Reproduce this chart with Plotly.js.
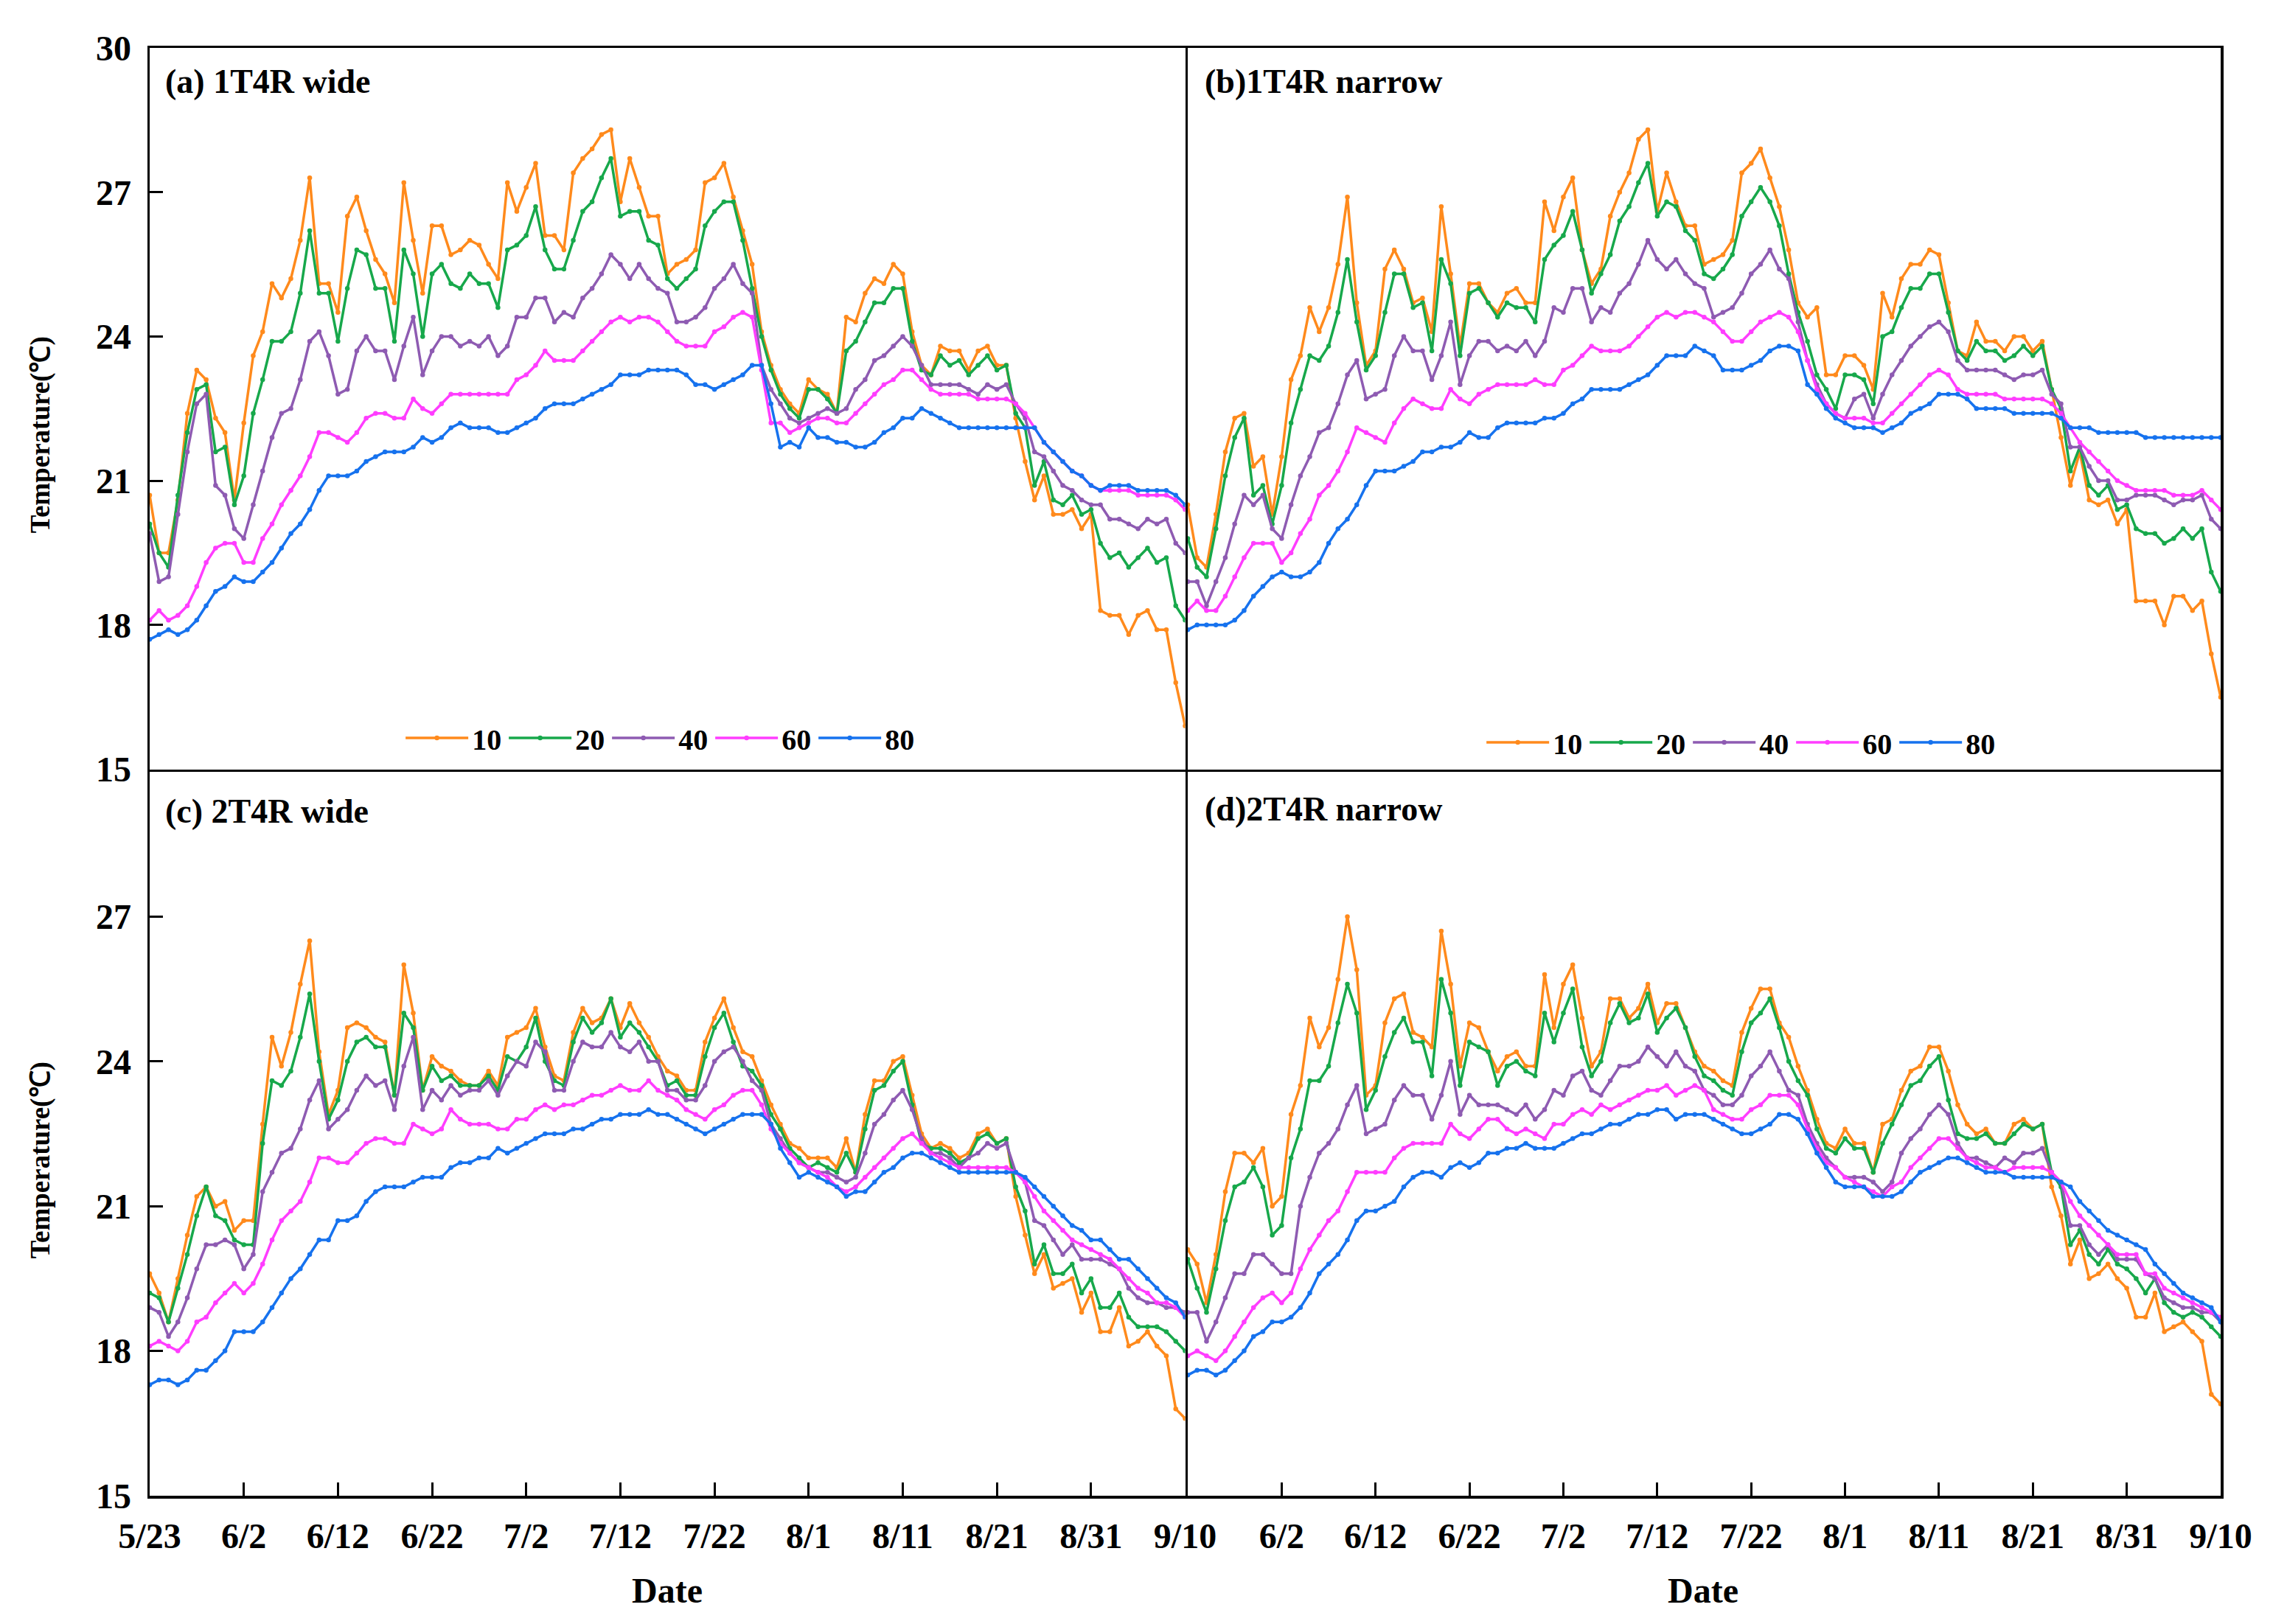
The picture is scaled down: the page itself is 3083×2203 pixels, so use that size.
<!DOCTYPE html>
<html>
<head>
<meta charset="utf-8">
<script src="https://cdn.plot.ly/plotly-3.0.1.min.js"></script>
<style>html,body{margin:0;padding:0;background:#fff;}#chart{width:3083px;height:2203px;}</style>
</head>
<body>
<div id="chart"></div>
<script>
// ---------------- data (daily soil temperature, ℃) ----------------
const startDate = '2020-05-23';
const nDays = 111; // 5/23 .. 9/10
const tickLabels = ['5/23','6/2','6/12','6/22','7/2','7/12','7/22','8/1','8/11','8/21','8/31','9/10'];
const depths = ['10','20','40','60','80'];
const panelTitles = ['(a) 1T4R wide','(b)1T4R narrow','(c) 2T4R wide','(d)2T4R narrow'];

// (a) 1T4R wide
const A10 = [20.7,19.5,19.5,20.6,22.4,23.3,23.1,22.3,22.0,20.6,22.2,23.6,24.1,25.1,24.8,25.2,26.0,27.3,25.1,25.1,24.5,26.5,26.9,26.2,25.6,25.3,24.7,27.2,26.0,24.9,26.3,26.3,25.7,25.8,26.0,25.9,25.5,25.2,27.2,26.6,27.1,27.6,26.1,26.1,25.8,27.4,27.7,27.9,28.2,28.3,26.8,27.7,27.1,26.5,26.5,25.3,25.5,25.6,25.8,27.2,27.3,27.6,26.9,26.2,25.5,24.1,23.4,22.9,22.6,22.4,23.1,22.9,22.8,22.4,24.4,24.3,24.9,25.2,25.1,25.5,25.3,24.1,23.4,23.2,23.8,23.7,23.7,23.3,23.7,23.8,23.4,23.4,22.3,21.4,20.6,21.1,20.3,20.3,20.4,20.0,20.3,18.3,18.2,18.2,17.8,18.2,18.3,17.9,17.9,16.8,15.9];
const A20 = [20.1,19.5,19.2,20.7,22.0,22.9,23.0,21.6,21.7,20.5,21.1,22.4,23.1,23.9,23.9,24.1,24.9,26.2,24.9,24.9,23.9,25.0,25.8,25.7,25.0,25.0,23.9,25.8,25.3,24.0,25.3,25.5,25.1,25.0,25.3,25.1,25.1,24.6,25.8,25.9,26.1,26.7,25.8,25.4,25.4,26.0,26.6,26.8,27.3,27.7,26.5,26.6,26.6,26.0,25.9,25.2,25.0,25.2,25.4,26.3,26.6,26.8,26.8,26.0,25.0,24.0,23.3,22.8,22.5,22.3,22.9,22.9,22.7,22.4,23.7,23.9,24.3,24.7,24.7,25.0,25.0,23.9,23.3,23.2,23.6,23.4,23.5,23.2,23.4,23.6,23.3,23.4,22.4,22.1,20.9,21.4,20.6,20.5,20.7,20.3,20.4,19.7,19.4,19.5,19.2,19.4,19.6,19.3,19.4,18.4,18.1];
const A40 = [19.9,18.9,19.0,20.3,21.6,22.6,22.8,20.9,20.7,20.0,19.8,20.5,21.2,21.9,22.4,22.5,23.1,23.9,24.1,23.6,22.8,22.9,23.7,24.0,23.7,23.7,23.1,23.8,24.4,23.2,23.7,24.0,24.0,23.8,23.9,23.8,24.0,23.6,23.8,24.4,24.4,24.8,24.8,24.3,24.5,24.4,24.8,25.0,25.3,25.7,25.5,25.2,25.5,25.2,25.0,24.9,24.3,24.3,24.4,24.6,25.0,25.2,25.5,25.1,24.9,23.4,22.9,22.6,22.3,22.2,22.3,22.4,22.5,22.4,22.5,22.9,23.1,23.5,23.6,23.8,24.0,23.8,23.4,23.0,23.0,23.0,23.0,22.9,22.8,23.0,22.9,23.0,22.6,22.3,21.6,21.5,21.2,20.9,20.8,20.6,20.5,20.5,20.2,20.2,20.1,20.0,20.2,20.1,20.2,19.7,19.5];
const A60 = [18.1,18.3,18.1,18.2,18.4,18.8,19.3,19.6,19.7,19.7,19.3,19.3,19.8,20.1,20.5,20.8,21.1,21.5,22.0,22.0,21.9,21.8,22.0,22.3,22.4,22.4,22.3,22.3,22.7,22.5,22.4,22.6,22.8,22.8,22.8,22.8,22.8,22.8,22.8,23.1,23.2,23.4,23.7,23.5,23.5,23.5,23.7,23.9,24.1,24.3,24.4,24.3,24.4,24.4,24.3,24.1,23.9,23.8,23.8,23.8,24.1,24.2,24.4,24.5,24.4,23.3,22.2,22.2,22.0,22.1,22.2,22.3,22.3,22.2,22.2,22.4,22.6,22.8,23.0,23.1,23.3,23.3,23.1,22.9,22.8,22.8,22.8,22.8,22.7,22.7,22.7,22.7,22.6,22.4,22.1,21.8,21.6,21.4,21.2,21.1,20.9,20.8,20.8,20.8,20.8,20.7,20.7,20.7,20.7,20.6,20.4];
const A80 = [17.7,17.8,17.9,17.8,17.9,18.1,18.4,18.7,18.8,19.0,18.9,18.9,19.1,19.3,19.6,19.9,20.1,20.4,20.8,21.1,21.1,21.1,21.2,21.4,21.5,21.6,21.6,21.6,21.7,21.9,21.8,21.9,22.1,22.2,22.1,22.1,22.1,22.0,22.0,22.1,22.2,22.3,22.5,22.6,22.6,22.6,22.7,22.8,22.9,23.0,23.2,23.2,23.2,23.3,23.3,23.3,23.3,23.2,23.0,23.0,22.9,23.0,23.1,23.2,23.4,23.4,22.6,21.7,21.8,21.7,22.1,21.9,21.9,21.8,21.8,21.7,21.7,21.8,22.0,22.1,22.3,22.3,22.5,22.4,22.3,22.2,22.1,22.1,22.1,22.1,22.1,22.1,22.1,22.1,22.1,21.8,21.6,21.4,21.2,21.1,20.9,20.8,20.9,20.9,20.9,20.8,20.8,20.8,20.8,20.7,20.5];

// (b) 1T4R narrow
const B10 = [20.5,19.4,19.2,20.3,21.6,22.3,22.4,21.3,21.5,20.3,21.5,23.1,23.6,24.6,24.1,24.6,25.5,26.9,24.7,23.4,23.7,25.4,25.8,25.4,24.7,24.8,24.1,26.7,25.3,23.8,25.1,25.1,24.7,24.5,24.9,25.0,24.7,24.7,26.8,26.2,26.9,27.3,25.8,25.1,25.4,26.5,27.0,27.4,28.1,28.3,26.6,27.4,26.8,26.3,26.3,25.5,25.6,25.7,26.0,27.4,27.6,27.9,27.3,26.7,25.8,24.7,24.4,24.6,23.2,23.2,23.6,23.6,23.4,22.9,24.9,24.4,25.2,25.5,25.5,25.8,25.7,24.7,23.7,23.6,24.3,23.9,23.9,23.7,24.0,24.0,23.7,23.9,22.9,21.9,20.9,21.6,20.6,20.5,20.6,20.1,20.4,18.5,18.5,18.5,18.0,18.6,18.6,18.3,18.5,17.4,16.5];
const B20 = [19.8,19.2,19.0,20.0,21.1,21.9,22.3,20.7,20.9,20.1,20.9,22.2,22.9,23.6,23.5,23.8,24.5,25.6,24.3,23.3,23.6,24.5,25.3,25.3,24.6,24.7,23.7,25.6,25.1,23.6,24.9,25.0,24.7,24.4,24.7,24.6,24.6,24.3,25.6,25.9,26.1,26.6,25.8,24.9,25.3,25.7,26.4,26.7,27.2,27.6,26.5,26.8,26.7,26.2,26.0,25.3,25.2,25.4,25.7,26.5,26.8,27.1,26.8,26.3,25.3,24.5,23.9,23.2,22.9,22.5,23.2,23.2,23.1,22.6,24.0,24.1,24.6,25.0,25.0,25.3,25.3,24.5,23.7,23.5,23.9,23.7,23.7,23.5,23.6,23.8,23.6,23.8,22.9,22.5,21.2,21.7,20.9,20.7,20.9,20.4,20.5,20.0,19.9,19.9,19.7,19.8,20.0,19.8,20.0,19.1,18.7];
const B40 = [18.9,18.9,18.4,18.9,19.4,20.1,20.7,20.5,20.7,20.0,19.8,20.5,21.1,21.5,22.0,22.1,22.6,23.2,23.5,22.7,22.8,22.9,23.6,24.0,23.7,23.7,23.1,23.6,24.3,23.0,23.6,23.9,23.9,23.7,23.8,23.7,23.9,23.6,23.9,24.6,24.5,25.0,25.0,24.3,24.6,24.5,24.9,25.1,25.5,26.0,25.6,25.4,25.6,25.3,25.1,25.0,24.4,24.5,24.6,24.9,25.3,25.5,25.8,25.4,25.2,24.3,23.5,23.0,22.6,22.4,22.3,22.7,22.8,22.3,22.8,23.2,23.5,23.8,24.0,24.2,24.3,24.1,23.5,23.3,23.3,23.3,23.3,23.2,23.1,23.2,23.2,23.3,22.8,22.6,21.7,21.7,21.3,21.0,21.0,20.6,20.6,20.7,20.7,20.7,20.6,20.5,20.6,20.6,20.7,20.2,20.0];
const B60 = [18.3,18.5,18.3,18.3,18.6,19.0,19.4,19.7,19.7,19.7,19.3,19.5,19.9,20.2,20.7,20.9,21.2,21.6,22.1,22.0,21.9,21.8,22.2,22.5,22.7,22.6,22.5,22.5,22.9,22.7,22.6,22.8,22.9,23.0,23.0,23.0,23.0,23.1,23.0,23.0,23.3,23.4,23.6,23.8,23.7,23.7,23.7,23.8,24.0,24.2,24.4,24.5,24.4,24.5,24.5,24.4,24.3,24.1,23.9,23.9,24.1,24.3,24.4,24.5,24.4,24.1,23.5,22.9,22.6,22.4,22.3,22.3,22.3,22.2,22.2,22.4,22.6,22.8,23.0,23.2,23.3,23.2,22.9,22.8,22.8,22.8,22.8,22.7,22.7,22.7,22.7,22.7,22.6,22.4,22.1,21.8,21.6,21.4,21.2,21.0,20.9,20.8,20.8,20.8,20.8,20.7,20.7,20.7,20.8,20.6,20.4];
const B80 = [17.9,18.0,18.0,18.0,18.0,18.1,18.3,18.6,18.8,19.0,19.1,19.0,19.0,19.1,19.3,19.7,20.0,20.2,20.5,20.9,21.2,21.2,21.2,21.3,21.4,21.6,21.6,21.7,21.7,21.8,22.0,21.9,21.9,22.1,22.2,22.2,22.2,22.2,22.3,22.3,22.4,22.6,22.7,22.9,22.9,22.9,22.9,23.0,23.1,23.2,23.4,23.6,23.6,23.6,23.8,23.7,23.6,23.3,23.3,23.3,23.4,23.5,23.7,23.8,23.8,23.7,23.0,22.8,22.5,22.3,22.2,22.1,22.1,22.1,22.0,22.1,22.2,22.4,22.5,22.6,22.8,22.8,22.8,22.7,22.5,22.5,22.5,22.5,22.4,22.4,22.4,22.4,22.4,22.3,22.1,22.1,22.1,22.0,22.0,22.0,22.0,22.0,21.9,21.9,21.9,21.9,21.9,21.9,21.9,21.9,21.9];

// (c) 2T4R wide
const C10 = [19.6,19.2,18.6,19.5,20.4,21.2,21.4,21.0,21.1,20.5,20.7,20.7,22.7,24.5,23.9,24.6,25.6,26.5,24.2,22.9,23.4,24.7,24.8,24.7,24.5,24.4,23.3,26.0,25.0,23.4,24.1,23.9,23.8,23.6,23.5,23.5,23.8,23.5,24.5,24.6,24.7,25.1,24.3,23.7,23.6,24.6,25.1,24.8,24.9,25.3,24.7,25.2,24.8,24.5,24.1,23.8,23.7,23.4,23.4,24.4,24.9,25.3,24.7,24.2,24.1,23.6,23.1,22.7,22.3,22.2,22.0,22.0,22.0,21.8,22.4,21.7,22.9,23.6,23.6,24.0,24.1,23.3,22.5,22.2,22.3,22.2,22.0,22.1,22.5,22.6,22.3,22.4,21.2,20.4,19.6,20.0,19.3,19.4,19.5,18.8,19.2,18.4,18.4,18.9,18.1,18.2,18.4,18.1,17.9,16.8,16.6];
const C20 = [19.2,19.1,18.6,19.3,20.0,20.8,21.4,20.8,20.7,20.3,20.2,20.2,22.3,23.6,23.5,23.8,24.5,25.4,24.0,22.8,23.2,24.0,24.4,24.5,24.3,24.3,23.3,25.0,24.7,23.4,23.9,23.6,23.7,23.5,23.5,23.5,23.7,23.4,24.1,24.0,24.3,24.9,24.0,23.6,23.5,24.4,24.9,24.6,24.8,25.3,24.5,24.8,24.6,24.3,24.0,23.5,23.6,23.3,23.3,24.1,24.7,25.0,24.4,23.9,23.8,23.5,22.9,22.6,22.2,22.0,21.8,21.9,21.8,21.7,22.1,21.7,22.6,23.4,23.5,23.8,24.0,23.1,22.3,22.2,22.2,22.1,21.9,22.0,22.4,22.5,22.3,22.4,21.4,20.9,19.8,20.2,19.6,19.6,19.8,19.2,19.5,18.9,18.9,19.2,18.7,18.5,18.5,18.5,18.4,18.2,18.0];
const C40 = [18.9,18.8,18.3,18.6,19.1,19.7,20.2,20.2,20.3,20.2,19.7,20.0,21.3,21.7,22.1,22.2,22.6,23.2,23.6,22.6,22.8,23.0,23.4,23.7,23.5,23.6,23.0,23.9,24.5,23.0,23.4,23.2,23.5,23.3,23.4,23.4,23.6,23.3,23.7,24.0,23.9,24.4,24.2,23.4,23.4,24.0,24.4,24.3,24.3,24.6,24.3,24.2,24.4,24.0,24.0,23.4,23.4,23.2,23.2,23.5,24.0,24.2,24.3,24.0,23.6,23.4,22.7,22.4,22.1,21.9,21.8,21.7,21.7,21.6,21.5,21.6,22.1,22.7,22.9,23.2,23.4,23.0,22.4,22.1,22.1,22.0,21.8,22.0,22.1,22.3,22.2,22.3,21.7,21.5,20.7,20.6,20.3,20.0,20.2,19.9,19.9,19.9,19.8,19.7,19.3,19.1,19.0,19.0,18.9,18.9,18.8];
const C60 = [18.1,18.2,18.1,18.0,18.2,18.6,18.7,19.0,19.2,19.4,19.2,19.4,19.8,20.3,20.7,20.9,21.1,21.5,22.0,22.0,21.9,21.9,22.1,22.3,22.4,22.4,22.3,22.3,22.7,22.6,22.5,22.6,23.0,22.8,22.7,22.7,22.7,22.6,22.6,22.8,22.8,23.0,23.1,23.0,23.1,23.1,23.2,23.3,23.3,23.4,23.5,23.4,23.4,23.6,23.4,23.3,23.2,23.0,22.9,22.8,23.0,23.1,23.3,23.4,23.4,23.1,22.6,22.3,22.1,21.9,21.8,21.7,21.6,21.4,21.3,21.4,21.6,21.8,22.0,22.2,22.4,22.5,22.3,22.1,22.0,21.9,21.8,21.8,21.8,21.8,21.8,21.8,21.7,21.5,21.2,20.9,20.7,20.5,20.3,20.2,20.1,20.0,19.9,19.7,19.5,19.3,19.2,19.0,19.0,18.9,18.7];
const C80 = [17.3,17.4,17.4,17.3,17.4,17.6,17.6,17.8,18.0,18.4,18.4,18.4,18.6,18.9,19.2,19.5,19.7,20.0,20.3,20.3,20.7,20.7,20.8,21.1,21.3,21.4,21.4,21.4,21.5,21.6,21.6,21.6,21.8,21.9,21.9,22.0,22.0,22.2,22.1,22.2,22.3,22.4,22.5,22.5,22.5,22.6,22.6,22.7,22.8,22.8,22.9,22.9,22.9,23.0,22.9,22.9,22.8,22.7,22.6,22.5,22.6,22.7,22.8,22.9,22.9,22.9,22.7,22.2,21.9,21.6,21.7,21.6,21.5,21.4,21.2,21.3,21.3,21.5,21.7,21.8,22.0,22.1,22.1,22.0,21.9,21.8,21.7,21.7,21.7,21.7,21.7,21.7,21.7,21.6,21.4,21.2,21.0,20.8,20.6,20.5,20.3,20.3,20.1,19.9,19.9,19.7,19.5,19.3,19.1,19.0,18.7];

// (d) 2T4R narrow
const D10 = [20.1,19.8,19.0,20.0,21.3,22.1,22.1,21.9,22.2,21.0,21.2,22.9,23.5,24.9,24.3,24.7,25.7,27.0,25.9,23.3,23.5,24.8,25.3,25.4,24.6,24.5,24.3,26.7,25.6,23.9,24.8,24.7,24.2,23.8,24.1,24.2,23.9,23.9,25.8,24.7,25.6,26.0,24.9,23.9,24.2,25.3,25.3,24.9,25.1,25.6,24.8,25.2,25.2,24.7,24.2,23.9,23.8,23.6,23.5,24.6,25.1,25.5,25.5,24.8,24.5,23.9,23.4,22.8,22.3,22.2,22.6,22.3,22.3,21.7,22.7,22.8,23.4,23.8,23.9,24.3,24.3,23.8,23.1,22.7,22.5,22.6,22.3,22.3,22.7,22.8,22.6,22.7,21.4,20.8,19.8,20.3,19.5,19.6,19.8,19.5,19.3,18.7,18.7,19.2,18.4,18.5,18.6,18.4,18.2,17.1,16.9];
const D20 = [19.9,19.3,18.8,19.7,20.7,21.4,21.5,21.8,21.4,20.4,20.6,22.0,22.6,23.6,23.6,23.9,24.8,25.6,25.0,23.0,23.4,24.1,24.6,24.9,24.4,24.4,23.7,25.7,25.0,23.5,24.4,24.3,24.2,23.5,23.9,24.0,23.8,23.7,25.0,24.4,25.0,25.5,24.3,23.7,24.0,24.8,25.2,24.8,24.9,25.4,24.6,24.9,25.1,24.7,24.1,23.7,23.6,23.4,23.3,24.2,24.8,25.0,25.3,24.7,24.0,23.6,23.3,22.6,22.2,22.1,22.4,22.2,22.2,21.7,22.3,22.7,23.1,23.5,23.6,23.9,24.1,23.2,22.5,22.4,22.4,22.5,22.3,22.3,22.5,22.7,22.6,22.7,21.7,21.4,20.2,20.5,20.0,19.8,20.1,19.8,19.7,19.5,19.2,19.5,19.0,18.8,18.7,18.8,18.7,18.5,18.3];
const D40 = [18.8,18.8,18.2,18.6,19.1,19.6,19.6,20.0,20.0,19.8,19.6,19.6,21.0,21.6,22.1,22.3,22.6,23.1,23.5,22.5,22.6,22.7,23.2,23.5,23.3,23.3,22.8,23.3,24.0,22.9,23.3,23.1,23.1,23.1,23.0,22.9,23.1,22.8,23.0,23.4,23.3,23.7,23.8,23.4,23.3,23.6,23.9,23.9,24.0,24.3,24.1,23.9,24.2,23.9,23.8,23.4,23.3,23.1,23.1,23.3,23.7,23.9,24.2,23.8,23.4,23.3,22.7,22.3,22.0,21.8,21.6,21.6,21.6,21.5,21.3,21.5,22.1,22.4,22.6,22.9,23.1,22.9,22.3,22.0,22.0,21.9,21.8,22.0,21.9,22.1,22.1,22.2,21.7,21.5,20.6,20.6,20.2,20.0,20.2,19.9,19.9,19.9,19.6,19.5,19.1,19.0,18.9,18.9,18.8,18.8,18.6];
const D60 = [17.9,18.0,17.9,17.8,18.0,18.3,18.6,18.9,19.1,19.2,19.0,19.2,19.7,20.1,20.4,20.7,20.9,21.3,21.7,21.7,21.7,21.7,22.0,22.2,22.3,22.3,22.3,22.3,22.7,22.5,22.4,22.6,22.8,22.8,22.6,22.5,22.6,22.5,22.4,22.7,22.7,22.9,23.0,22.9,23.1,23.0,23.1,23.2,23.3,23.4,23.4,23.5,23.3,23.4,23.5,23.4,23.0,22.9,22.8,22.8,23.0,23.1,23.3,23.3,23.3,23.1,22.6,22.2,21.9,21.8,21.6,21.5,21.4,21.3,21.2,21.4,21.5,21.8,22.0,22.2,22.4,22.4,22.2,22.0,21.9,21.8,21.8,21.7,21.8,21.8,21.8,21.8,21.7,21.5,21.1,20.8,20.6,20.4,20.2,20.0,20.0,20.0,19.6,19.6,19.3,19.2,19.1,19.0,18.9,18.8,18.7];
const D80 = [17.5,17.6,17.6,17.5,17.6,17.8,18.0,18.3,18.4,18.6,18.6,18.7,18.9,19.2,19.6,19.8,20.0,20.3,20.7,20.9,20.9,21.0,21.1,21.4,21.6,21.7,21.7,21.6,21.8,21.9,21.8,21.9,22.1,22.1,22.2,22.2,22.3,22.2,22.2,22.2,22.3,22.4,22.5,22.5,22.6,22.7,22.7,22.8,22.9,22.9,23.0,23.0,22.8,22.9,22.9,22.9,22.8,22.7,22.6,22.5,22.5,22.6,22.7,22.9,22.9,22.8,22.5,22.1,21.8,21.5,21.4,21.4,21.4,21.2,21.2,21.2,21.3,21.5,21.7,21.8,21.9,22.0,22.0,21.9,21.8,21.7,21.7,21.7,21.6,21.6,21.6,21.6,21.6,21.5,21.4,21.1,20.9,20.7,20.5,20.4,20.3,20.2,20.1,19.8,19.6,19.4,19.2,19.1,19.0,18.9,18.6];

const panels = [
  [A10, A20, A40, A60, A80],
  [B10, B20, B40, B60, B80],
  [C10, C20, C40, C60, C80],
  [D10, D20, D40, D60, D80]
];

// ---------------- styling ----------------
const colors = ['#FF8A1C', '#17A84B', '#8E5BB2', '#FF3DFF', '#1672EE'];
const FONT = 'Liberation Serif, Times New Roman, serif';
const LW = 3.5;                 // frame line width (px)
const PLOT_W = 3083 - 203 - 71; // plot-area width in px
const PLOT_H = 2203 - 65 - 174; // plot-area height in px
const midX = 0.5 + LW / PLOT_W; // right panels start so shared frame lines coincide
const midY = 0.5 + LW / PLOT_H; // top panels start so shared frame lines coincide

// date categories from start date
const dates = [];
{
  const d0 = new Date(startDate + 'T00:00:00Z');
  for (let i = 0; i < nDays; i++) {
    const d = new Date(d0.getTime() + i * 86400000);
    dates.push(d.toISOString().slice(0, 10));
  }
}
const tickDates = tickLabels.map((_, i) => dates[i * 10]);

const traces = [];
panels.forEach((series, p) => {
  const ax = p === 0 ? '' : String(p + 1);
  series.forEach((vals, s) => {
    traces.push({
      x: dates, y: vals,
      xaxis: 'x' + ax, yaxis: 'y' + ax,
      type: 'scatter', mode: 'lines+markers',
      name: depths[s],
      line: {color: colors[s], width: 3.5},
      marker: {color: colors[s], size: 6.5, symbol: 'circle'},
      showlegend: p < 2,
      legend: p === 1 ? 'legend2' : 'legend'
    });
  });
});

const tickFont = {family: FONT, size: 48, color: '#000', weight: 'bold'};
const range = [dates[0], dates[nDays - 1]];

function xAxis(domain, anchor, showLabels, labelFrom) {
  const a = {
    domain: domain, anchor: anchor, type: 'date', range: range,
    showgrid: false, zeroline: false,
    showline: true, mirror: true, linecolor: '#000', linewidth: LW,
    fixedrange: true
  };
  if (showLabels) {
    a.tickmode = 'array';
    a.tickvals = tickDates.slice(labelFrom);
    a.ticktext = tickLabels.slice(labelFrom);
    a.ticks = 'inside'; a.ticklen = 18; a.tickwidth = 3; a.tickcolor = '#000';
    a.tickfont = tickFont;
    a.ticklabelstandoff = 10;
  } else {
    a.showticklabels = false; a.ticks = '';
  }
  return a;
}
function yAxis(domain, anchor, labelVals) {
  const a = {
    domain: domain, anchor: anchor, range: [15, 30],
    showgrid: false, zeroline: false,
    showline: true, mirror: true, linecolor: '#000', linewidth: LW,
    fixedrange: true
  };
  if (labelVals) {
    a.tickmode = 'array';
    a.tickvals = labelVals;
    a.ticktext = labelVals.map(String);
    a.ticks = 'inside'; a.ticklen = 18; a.tickwidth = 3; a.tickcolor = '#000';
    a.tickfont = tickFont;
    a.ticklabelstandoff = 12;
  } else {
    a.showticklabels = false; a.ticks = '';
  }
  return a;
}

const annFont = {family: FONT, size: 46, color: '#000', weight: 'bold'};
const annotations = [
  {text: panelTitles[0], x: 0.0068, y: 0.9766},
  {text: panelTitles[1], x: 0.5087, y: 0.9766},
  {text: panelTitles[2], x: 0.0068, y: 0.4730},
  {text: panelTitles[3], x: 0.5087, y: 0.4745}
].map(a => Object.assign(a, {xref: 'paper', yref: 'paper', xanchor: 'left', yanchor: 'middle', showarrow: false, font: annFont}));

const ytFont = {family: FONT, size: 37, color: '#000', weight: 'bold'};
annotations.push(
  {text: 'Temperature(℃)', x: -0.0527, y: 0.733, textangle: -90},
  {text: 'Temperature(℃)', x: -0.0527, y: 0.232, textangle: -90}
);
annotations.push(
  {text: 'Date', x: 0.25, y: -0.0652},
  {text: 'Date', x: 0.75, y: -0.0652}
);
for (let i = 4; i < 8; i++) {
  Object.assign(annotations[i], {xref: 'paper', yref: 'paper', xanchor: 'center', yanchor: 'middle', showarrow: false,
    font: i < 6 ? ytFont : {family: FONT, size: 48, color: '#000', weight: 'bold'}});
}

const legendBase = {
  orientation: 'h', xanchor: 'left', yanchor: 'middle',
  bgcolor: 'rgba(0,0,0,0)', borderwidth: 0,
  font: {family: FONT, size: 40, color: '#000', weight: 'bold'},
  itemwidth: 85, traceorder: 'normal', itemclick: false, itemdoubleclick: false
};

const layout = {
  width: 3083, height: 2203,
  margin: {l: 203, r: 71, t: 65, b: 174, pad: 0},
  paper_bgcolor: '#fff', plot_bgcolor: '#fff',
  showlegend: true,
  legend: Object.assign({}, legendBase, {x: 0.1218, y: 0.5234}),
  legend2: Object.assign({}, legendBase, {x: 0.6437, y: 0.5204}),
  xaxis: xAxis([0, 0.5], 'y', false),
  yaxis: yAxis([midY, 1], 'x', [15, 18, 21, 24, 27, 30]),
  xaxis2: xAxis([midX, 1], 'y2', false),
  yaxis2: yAxis([midY, 1], 'x2', null),
  xaxis3: xAxis([0, 0.5], 'y3', true, 0),
  yaxis3: yAxis([0, 0.5], 'x3', [15, 18, 21, 24, 27]),
  xaxis4: xAxis([midX, 1], 'y4', true, 1),
  yaxis4: yAxis([0, 0.5], 'x4', null),
  annotations: annotations
};

Plotly.newPlot('chart', traces, layout, {displayModeBar: false, staticPlot: true});
</script>
</body>
</html>
